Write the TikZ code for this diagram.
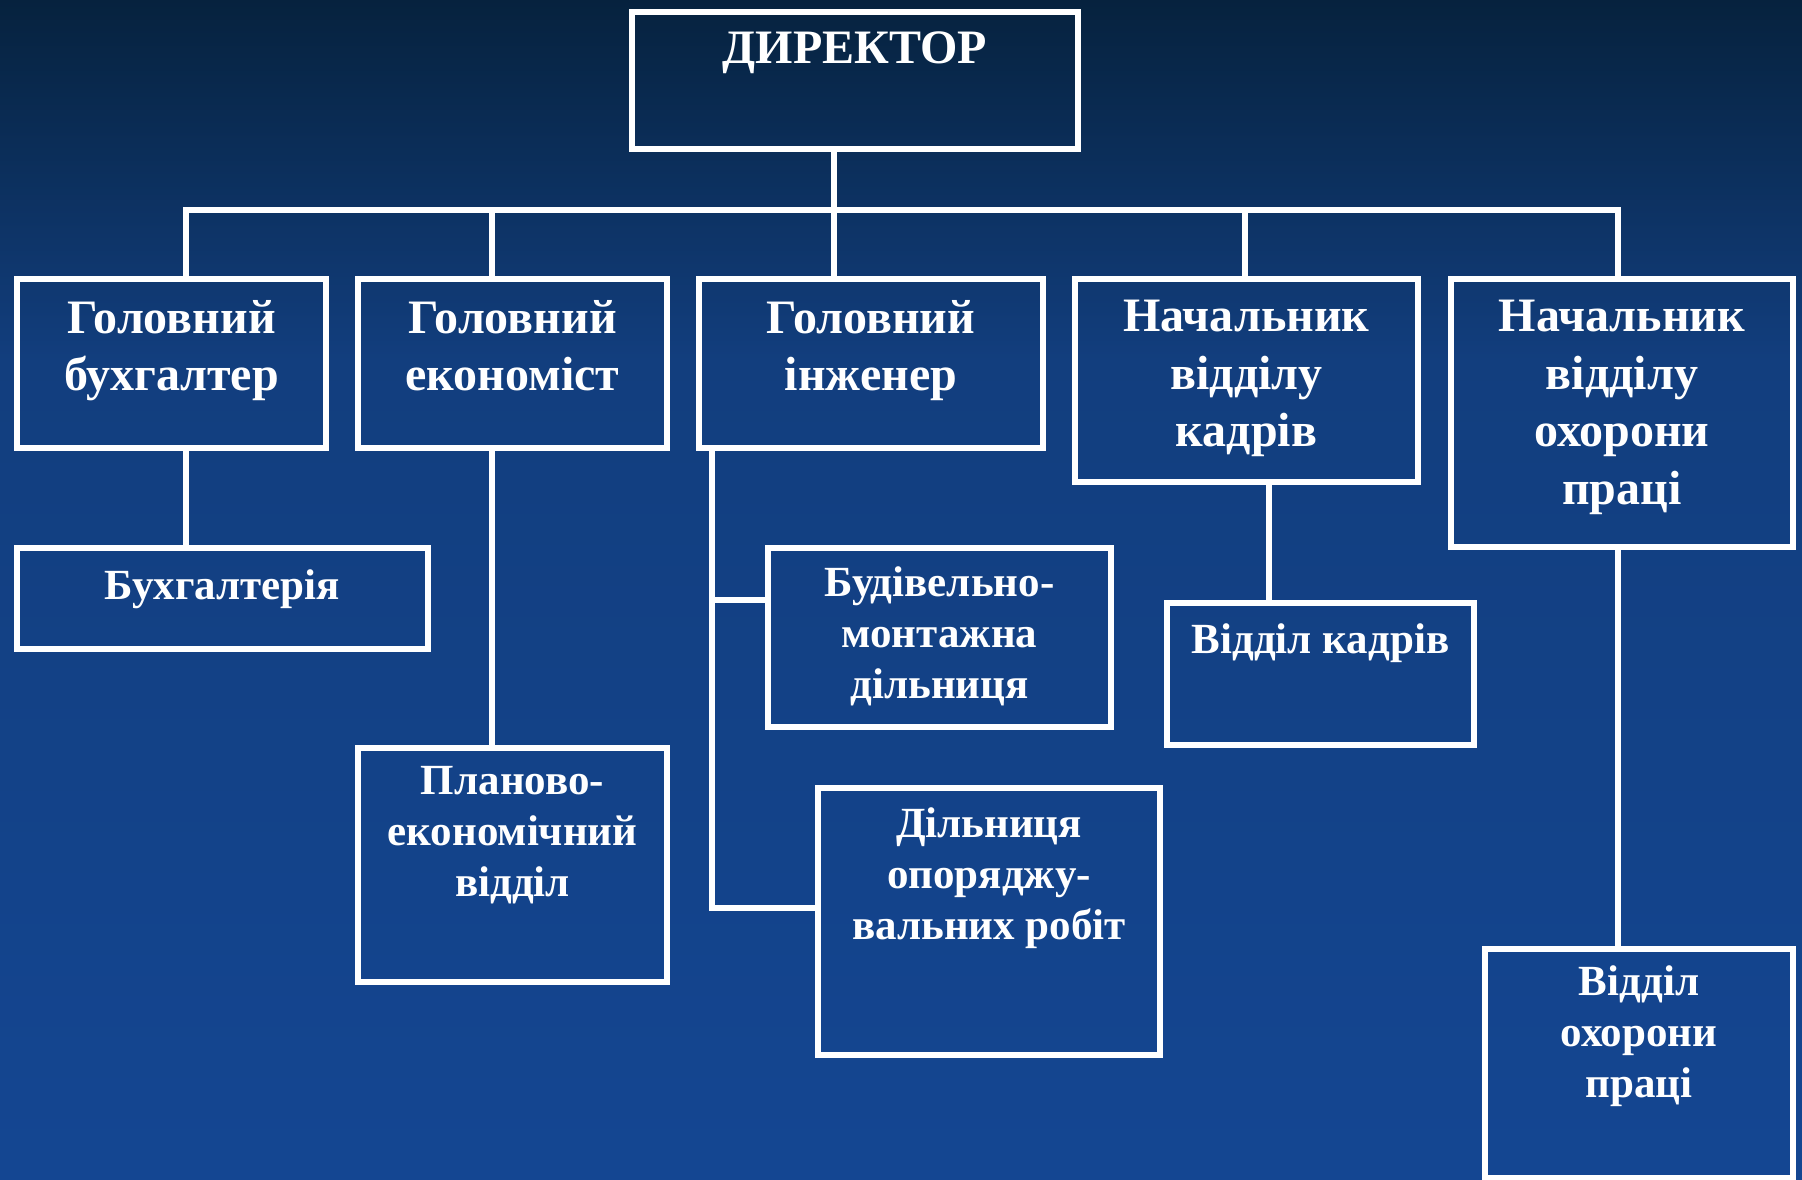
\documentclass[tikz,border=0pt]{standalone}
\usepackage{fontspec}
\setmainfont{Liberation Serif}
\usetikzlibrary{positioning}
\definecolor{bgtop}{RGB}{6,34,62}
\definecolor{bgmid}{RGB}{18,62,126}
\definecolor{bgbot}{RGB}{20,70,146}
\tikzset{
  unit/.style={draw=white, line width=6pt, anchor=north west, inner sep=0pt},
  title/.style={text=white, font=\bfseries\fontsize{48}{57.5}\selectfont,
    align=center, anchor=north, inner sep=0pt},
  subtitle/.style={title, font=\bfseries\fontsize{43}{51}\selectfont},
  link/.style={draw=white, line width=6pt, line join=miter},
}
\begin{document}
\begin{tikzpicture}[x=1pt, y=-1pt]
  % background
  \useasboundingbox (0,0) rectangle (1802,1180);
  \shade[top color=bgtop, bottom color=bgmid] (0,0) rectangle (1802,360);
  \shade[top color=bgmid, bottom color=bgbot] (0,360) rectangle (1802,1180);

  % boxes
  \node[unit, minimum width=446pt, minimum height=137pt] (dir) at (629,9) {};
  \node[unit, minimum width=309pt, minimum height=169pt] (gb) at (14,276) {};
  \node[unit, minimum width=309pt, minimum height=169pt] (ge) at (355,276) {};
  \node[unit, minimum width=344pt, minimum height=169pt] (gi) at (696,276) {};
  \node[unit, minimum width=343pt, minimum height=203pt] (nk) at (1072,276) {};
  \node[unit, minimum width=342pt, minimum height=268pt] (no) at (1448,276) {};
  \node[unit, minimum width=411pt, minimum height=101pt] (buh) at (14,545) {};
  \node[unit, minimum width=309pt, minimum height=234pt] (pev) at (355,745) {};
  \node[unit, minimum width=343pt, minimum height=179pt] (bmd) at (765,545) {};
  \node[unit, minimum width=342pt, minimum height=267pt] (dor) at (815,785) {};
  \node[unit, minimum width=307pt, minimum height=142pt] (vk) at (1164,600) {};
  \node[unit, minimum width=308pt, minimum height=229pt] (voh) at (1482,946) {};

  % texts
  \node[title] (tdir) at ([yshift=-23pt]dir.north) {ДИРЕКТОР};
  \node[title] (tgb) at ([yshift=-24pt]gb.north) {Головний\\бухгалтер};
  \node[title] (tge) at ([yshift=-24pt]ge.north) {Головний\\економіст};
  \node[title] (tgi) at ([yshift=-24pt]gi.north) {Головний\\інженер};
  \node[title] (tnk) at ([yshift=-24pt]nk.north) {Начальник\\відділу\\кадрів};
  \node[title] (tno) at ([yshift=-24pt]no.north) {Начальник\\відділу\\охорони\\праці};
  \node[subtitle] (tbuh) at ([yshift=-24pt]buh.north) {Бухгалтерія};
  \node[subtitle] (tpev) at ([yshift=-21pt]pev.north) {Планово-\\економічний\\відділ};
  \node[subtitle] (tbmd) at ([yshift=-21pt]bmd.north) {Будівельно-\\монтажна\\дільниця};
  \node[subtitle] (tdor) at ([yshift=-22pt]dor.north) {Дільниця\\опоряджу-\\вальних робіт};
  \node[subtitle] (tvk) at ([yshift=-23pt]vk.north) {Відділ кадрів};
  \node[subtitle] (tvoh) at ([yshift=-19pt]voh.north) {Відділ\\охорони\\праці};

  % junctions
  \coordinate (d1) at (186,210);
  \coordinate (d2) at (492,210);
  \coordinate (d3) at (834,210);
  \coordinate (d4) at (1245,210);
  \coordinate (d5) at (1618,210);
  \coordinate (j1) at (712,600);
  \coordinate (j2) at (712,908);
  \coordinate (dk) at (1269,0);

  % connectors
  \draw[link] (d1 |- gb.north) -- (d1) -- (d5) -- (d5 |- no.north);
  \draw[link] (d3 |- dir.south) -- (d3 |- gi.north);
  \draw[link] (d2) -- (d2 |- ge.north);
  \draw[link] (d4) -- (d4 |- nk.north);
  \draw[link] (d1 |- gb.south) -- (d1 |- buh.north);
  \draw[link] (d2 |- ge.south) -- (d2 |- pev.north);
  \draw[link] (j2 |- gi.south) -- (j2) -- (j2 -| dor.west);
  \draw[link] (j1) -- (j1 -| bmd.west);
  \draw[link] (dk |- nk.south) -- (dk |- vk.north);
  \draw[link] (d5 |- no.south) -- (d5 |- voh.north);
\end{tikzpicture}
\end{document}
